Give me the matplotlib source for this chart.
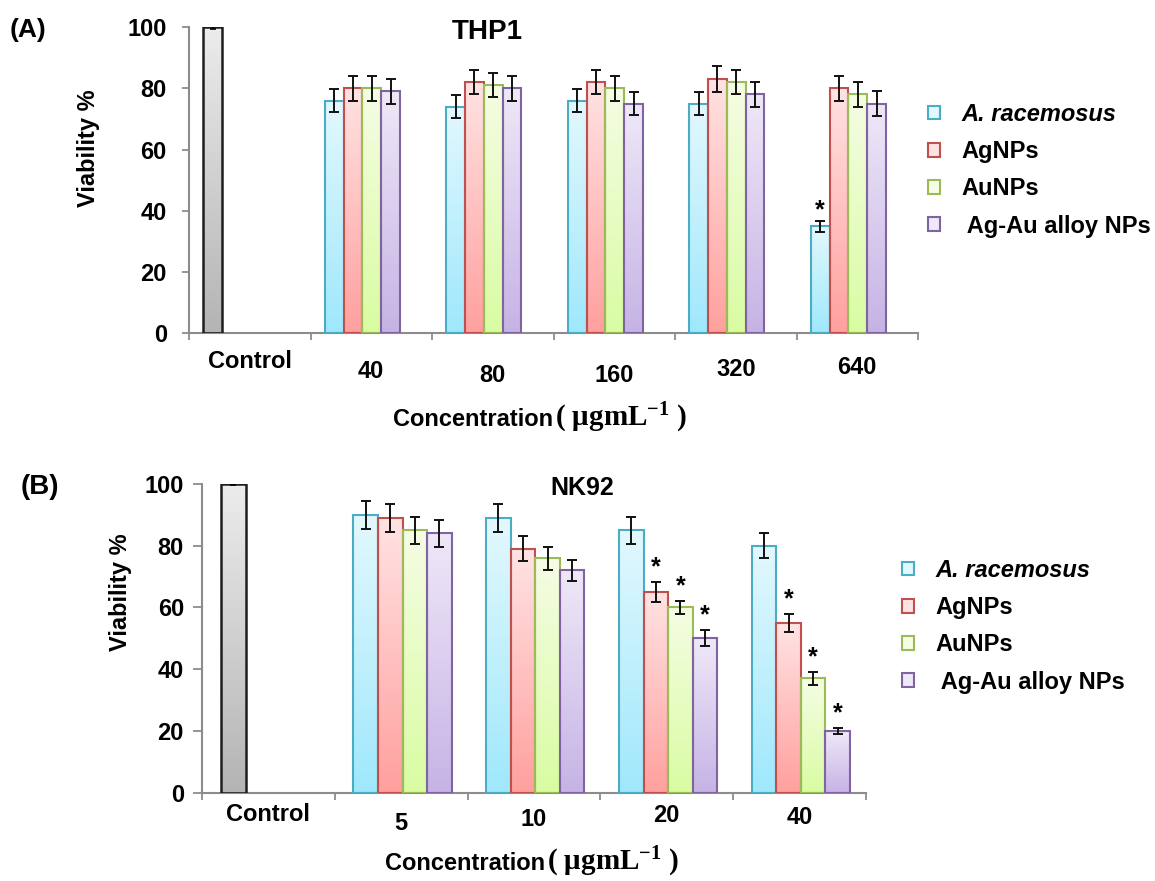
import numpy as np
import matplotlib
matplotlib.use("Agg")
import matplotlib.pyplot as plt
from matplotlib.patches import Patch
from matplotlib.colors import LinearSegmentedColormap

W, H = 1155, 881

series_names = ["A. racemosus", "AgNPs", "AuNPs", " Ag-Au alloy NPs"]

# (A) THP1
thp1_cats = ["Control", "40", "80", "160", "320", "640"]
thp1_control = 100
thp1_control_err = 0.5
thp1_racemosus = [76, 74, 76, 75, 35]
thp1_racemosus_err = [3.8, 3.8, 3.8, 3.8, 1.8]
thp1_agnps = [80, 82, 82, 83, 80]
thp1_agnps_err = [4, 4, 4, 4.2, 4]
thp1_aunps = [80, 81, 80, 82, 78]
thp1_aunps_err = [4, 4, 4, 4, 4]
thp1_alloy = [79, 80, 75, 78, 75]
thp1_alloy_err = [4, 4, 3.8, 4, 4]
thp1_stars = [(0, 4)]  # (series, concentration index)

# (B) NK92
nk92_cats = ["Control", "5", "10", "20", "40"]
nk92_control = 100
nk92_control_err = 0.4
nk92_racemosus = [90, 89, 85, 80]
nk92_racemosus_err = [4.5, 4.5, 4.3, 4]
nk92_agnps = [89, 79, 65, 55]
nk92_agnps_err = [4.5, 4, 3.3, 2.8]
nk92_aunps = [85, 76, 60, 37]
nk92_aunps_err = [4.3, 3.7, 2, 2]
nk92_alloy = [84, 72, 50, 20]
nk92_alloy_err = [4.3, 3.5, 2.6, 1]
nk92_stars = [(1, 2), (2, 2), (3, 2), (1, 3), (2, 3), (3, 3)]

# colours: (top of bar, bottom of bar, edge)
control_style = ("#ececec", "#b4b4b4", "#1e1e1e")
series_styles = [
    ("#e3f8fe", "#9fe8fc", "#4bacc6"),
    ("#ffe3e3", "#ffa09e", "#c0504d"),
    ("#f5fde4", "#d9fca2", "#9bbb59"),
    ("#efe8f8", "#c6b3e5", "#8064a2"),
]

plt.rcParams["font.family"] = ["Liberation Sans", "DejaVu Sans"]
plt.rcParams["font.weight"] = "bold"
plt.rcParams["mathtext.fontset"] = "custom"
plt.rcParams["mathtext.rm"] = "Liberation Serif:bold"
plt.rcParams["mathtext.bf"] = "Liberation Serif:bold"
plt.rcParams["mathtext.default"] = "rm"


def fx(x):
    return x / W


def fy(y):
    return 1 - y / H


def gradient_bar(ax, x, h, w, style, lw=1.5):
    top, bottom, edge = style
    bar = ax.bar(x, h, w, facecolor="none", edgecolor=edge, linewidth=lw, zorder=3)[0]
    cmap = LinearSegmentedColormap.from_list("g", [bottom, top])
    grad = np.linspace(0, 1, 256).reshape(-1, 1)
    img = ax.imshow(grad, extent=[x - w / 2, x + w / 2, 0, h], origin="lower",
                    cmap=cmap, aspect="auto", zorder=2)
    img.set_clip_path(bar)


def draw_panel(ax, cats, control, control_err, values, errors, stars,
               left, width, control_width, label_offsets, ytick_len, ytick_pad, star_off):
    n = len(cats)
    # control bar
    cx = left + control_width / 2
    gradient_bar(ax, cx, control, control_width, control_style, lw=1.8)
    ax.errorbar(cx, control, yerr=control_err, fmt="none", ecolor="black",
                elinewidth=1.2, capsize=2, capthick=1.2, zorder=4)
    for s, (vals, errs) in enumerate(zip(values, errors)):
        xs = np.arange(1, n) + left + width * (s + 0.5)
        for x, v, e in zip(xs, vals, errs):
            gradient_bar(ax, x, v, width, series_styles[s])
        ax.errorbar(xs, vals, yerr=errs, fmt="none", ecolor="#111111",
                    elinewidth=1.4, capsize=3.8, capthick=1.4, zorder=4)
    for s, c in stars:
        x = 1 + c + left + width * (s + 0.5)
        top = values[s][c] + errors[s][c]
        ax.annotate("*", xy=(x, top), xytext=(0, star_off), textcoords="offset pixels",
                    ha="center", va="baseline", fontsize=18, fontweight="bold")

    ax.set_xlim(-0.5, n - 0.5)
    ax.set_ylim(0, 100)
    ax.set_yticks(np.arange(0, 101, 20))
    ax.set_xticks([])
    ax.set_xticks(np.arange(n + 1) - 0.5, minor=True)
    ax.tick_params(axis="x", which="minor", length=5, width=1.3, color="#8c8c8c")
    ax.tick_params(axis="y", length=ytick_len, width=1.3, color="#8c8c8c",
                   labelsize=17, pad=ytick_pad)
    for spine in ["top", "right"]:
        ax.spines[spine].set_visible(False)
    for spine in ["left", "bottom"]:
        ax.spines[spine].set_color("#8c8c8c")
        ax.spines[spine].set_linewidth(1.5)
    for i, (lab, off) in enumerate(zip(cats, label_offsets)):
        ax.annotate(lab, xy=(i, 0), xycoords=("data", "axes fraction"),
                    xytext=(0, -off), textcoords="offset pixels",
                    ha="center", va="center", fontsize=17, fontweight="bold")


fig = plt.figure(figsize=(W / 100, H / 100), dpi=100)

ax1 = fig.add_axes([fx(189), fy(333.5), fx(918 - 189), (333.5 - 27) / H])
draw_panel(ax1, thp1_cats, thp1_control, thp1_control_err,
           [thp1_racemosus, thp1_agnps, thp1_aunps, thp1_alloy],
           [thp1_racemosus_err, thp1_agnps_err, thp1_aunps_err, thp1_alloy_err],
           thp1_stars, left=-0.382, width=0.1545, control_width=0.156,
           label_offsets=[28.5, 38.5, 42.5, 42.5, 36.5, 34.5],
           ytick_len=5, ytick_pad=11, star_off=3)

ax2 = fig.add_axes([fx(202), fy(792.7), fx(866 - 202), (792.7 - 484) / H])
draw_panel(ax2, nk92_cats, nk92_control, nk92_control_err,
           [nk92_racemosus, nk92_agnps, nk92_aunps, nk92_alloy],
           [nk92_racemosus_err, nk92_agnps_err, nk92_aunps_err, nk92_alloy_err],
           nk92_stars, left=-0.36, width=0.185, control_width=0.19,
           label_offsets=[22, 31, 27, 23, 25],
           ytick_len=6.5, ytick_pad=6.5, star_off=8)

# titles, panel letters, axis labels
fig.text(fx(487), fy(32), "THP1", ha="center", va="center", fontsize=20, fontweight="bold")
fig.text(fx(582), fy(488), "NK92", ha="center", va="center", fontsize=18, fontweight="bold")
fig.text(fx(10), fy(30), "(A)", ha="left", va="center", fontsize=19, fontweight="bold")
fig.text(fx(21), fy(487), "(B)", ha="left", va="center", fontsize=20, fontweight="bold")
fig.text(fx(88), fy(148), "Viability %", rotation=90, ha="center", va="center",
         fontsize=17, fontweight="bold")
fig.text(fx(121), fy(592), "Viability %", rotation=90, ha="center", va="center",
         fontsize=17, fontweight="bold")

for xr, yb in [(553, 426), (545, 870)]:
    fig.text(fx(xr), fy(yb), "Concentration", ha="right", va="baseline",
             fontsize=17, fontweight="bold")
    fig.text(fx(xr + 2), fy(yb), "( \u03bcgmL$^{-1}$ )", ha="left", va="baseline",
             fontsize=21, family=["Liberation Serif", "DejaVu Serif"], fontweight="bold")

# legends
handles = [Patch(facecolor=st[0], edgecolor=st[2], linewidth=1.5) for st in series_styles]
for x0, y0 in [(928, 103), (902, 559)]:
    leg = fig.legend(handles, series_names, loc="upper left",
                     bbox_to_anchor=(fx(x0), fy(y0)), frameon=False,
                     fontsize=17, handlelength=0.5, handleheight=0.5,
                     handletextpad=0.9, labelspacing=0.6,
                     borderpad=0, borderaxespad=0)
    for t in leg.get_texts():
        t.set_fontweight("bold")
    leg.get_texts()[0].set_fontstyle("italic")

fig.savefig("out.png", dpi=100)
